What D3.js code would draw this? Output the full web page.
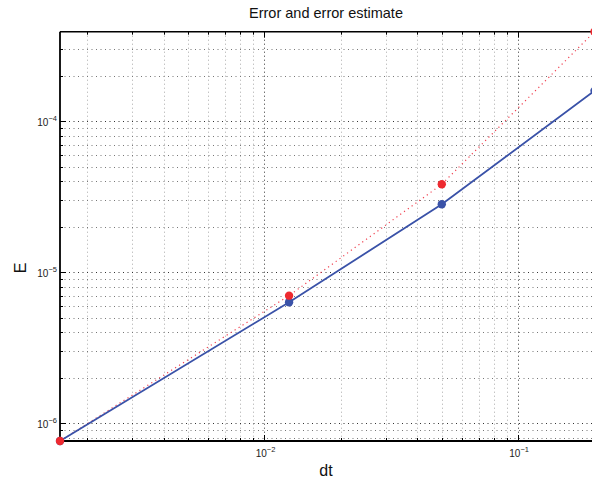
<!DOCTYPE html>
<html><head><meta charset="utf-8">
<script src="https://cdn.jsdelivr.net/npm/d3@7"></script>
<style>body{margin:0;background:#fff}svg{display:block}</style>
</head><body>
<script>
const dt = [0.0015625, 0.0125, 0.05, 0.2];
const errorVals = [7.63e-7, 6.33e-6, 2.82e-5, 1.59e-4];
const estimateVals = [7.63e-7, 7.0e-6, 3.83e-5, 3.92e-4];
const xTickExps = [-2, -1];
const yTickExps = [-6, -5, -4];
const titleText = "Error and error estimate";
const xLabel = "dt";
const yLabel = "E";

const W = 592, H = 481;
const L = 60, R = 594.5, T = 31.7, B = 441;
const svg = d3.select("body").append("svg").attr("width", W).attr("height", H)
  .style("font-family", "'Liberation Sans', Arial, sans-serif");

const x = d3.scaleLog().domain([dt[0], dt[dt.length-1]]).range([L, R]);
const y = d3.scaleLog().domain([errorVals[0], estimateVals[estimateVals.length-1]]).range([B, T]);

function logTicks(domain){
  const out = [];
  const lo = Math.floor(Math.log10(domain[0])), hi = Math.ceil(Math.log10(domain[1]));
  for (let e = lo; e <= hi; e++) for (let m = 1; m <= 9; m++) {
    const v = m * Math.pow(10, e);
    if (v >= domain[0]*0.9999 && v <= domain[1]*1.0001) out.push({v, major: m === 1});
  }
  return out;
}
const xt = logTicks(x.domain()), yt = logTicks(y.domain());

svg.append("defs").append("clipPath").attr("id","c")
  .append("rect").attr("x", L - 6).attr("y", T-6).attr("width", W - L + 10).attr("height", B - T + 12);

const g = svg.append("g");
xt.forEach(t => {
  const px = Math.round(x(t.v)) + 0.5;
  g.append("line").attr("x1", px).attr("x2", px).attr("y1", T).attr("y2", B)
    .attr("stroke", t.major ? "#333" : "#aaa").attr("stroke-width", 1).attr("stroke-dasharray", "1,3");
});
yt.forEach(t => {
  const py = Math.round(y(t.v)) + 0.5;
  g.append("line").attr("x1", L).attr("x2", W).attr("y1", py).attr("y2", py)
    .attr("stroke", t.major ? "#333" : "#777").attr("stroke-width", 1).attr("stroke-dasharray", "1,3.5");
});

xt.forEach(t => {
  const px = Math.round(x(t.v)) + 0.5, len = t.major ? 6 : 3;
  g.append("line").attr("x1", px).attr("x2", px).attr("y1", B).attr("y2", B - len).attr("stroke", "#000");
  g.append("line").attr("x1", px).attr("x2", px).attr("y1", T).attr("y2", T + len).attr("stroke", "#000");
});
yt.forEach(t => {
  const py = Math.round(y(t.v)) + 0.5, len = t.major ? 6 : 3;
  g.append("line").attr("x1", L).attr("x2", L + len).attr("y1", py).attr("y2", py).attr("stroke", "#000");
});

svg.append("line").attr("x1", L).attr("x2", W).attr("y1", T).attr("y2", T).attr("stroke", "#000").attr("stroke-width", 1.5);
svg.append("line").attr("x1", L).attr("x2", W).attr("y1", B).attr("y2", B).attr("stroke", "#000").attr("stroke-width", 1.8);
svg.append("line").attr("x1", L).attr("x2", L).attr("y1", T).attr("y2", B).attr("stroke", "#000").attr("stroke-width", 1.8);

xTickExps.forEach(e => {
  const px = x(Math.pow(10, e));
  const t = svg.append("text").attr("x", px + 1).attr("y", 457).attr("text-anchor", "middle")
    .attr("font-size", 10).attr("fill", "#222");
  t.append("tspan").text("10");
  t.append("tspan").attr("dy", -5).attr("font-size", 7.5).text("\u2212" + Math.abs(e));
});
yTickExps.forEach(e => {
  const py = y(Math.pow(10, e));
  const t = svg.append("text").attr("x", 57).attr("y", py + 5).attr("text-anchor", "end")
    .attr("font-size", 10).attr("fill", "#222");
  t.append("tspan").text("10");
  t.append("tspan").attr("dy", -5).attr("font-size", 7.5).text("\u2212" + Math.abs(e));
});

const plot = svg.append("g").attr("clip-path", "url(#c)");
const line = d3.line().x(d => x(d[0])).y(d => y(d[1]));
const est = dt.map((d, i) => [d, estimateVals[i]]);
const err = dt.map((d, i) => [d, errorVals[i]]);
plot.append("path").datum(est).attr("d", line).attr("fill", "none")
  .attr("stroke", "#f04050").attr("stroke-width", 1.2).attr("stroke-dasharray", "1.2,3.5");
plot.append("path").datum(err).attr("d", line).attr("fill", "none")
  .attr("stroke", "#3a52a8").attr("stroke-width", 1.8);
plot.selectAll("circle.e").data(err).join("circle").attr("class", "e")
  .attr("cx", d => x(d[0])).attr("cy", d => y(d[1])).attr("r", 4.2).attr("fill", "#3a52a8");
plot.selectAll("circle.s").data(est).join("circle").attr("class", "s")
  .attr("cx", d => x(d[0])).attr("cy", d => y(d[1])).attr("r", 4.2).attr("fill", "#ee2a30");

svg.append("text").attr("x", 326).attr("y", 18).attr("text-anchor", "middle")
  .attr("font-size", 14.5).attr("fill", "#111").text(titleText);
svg.append("text").attr("x", 326).attr("y", 476).attr("text-anchor", "middle")
  .attr("font-size", 16).attr("fill", "#111").text(xLabel);
svg.append("text").attr("transform", "translate(26,268) rotate(-90)").attr("text-anchor", "middle")
  .attr("font-size", 16).attr("fill", "#111").text(yLabel);
</script>
</body></html>
